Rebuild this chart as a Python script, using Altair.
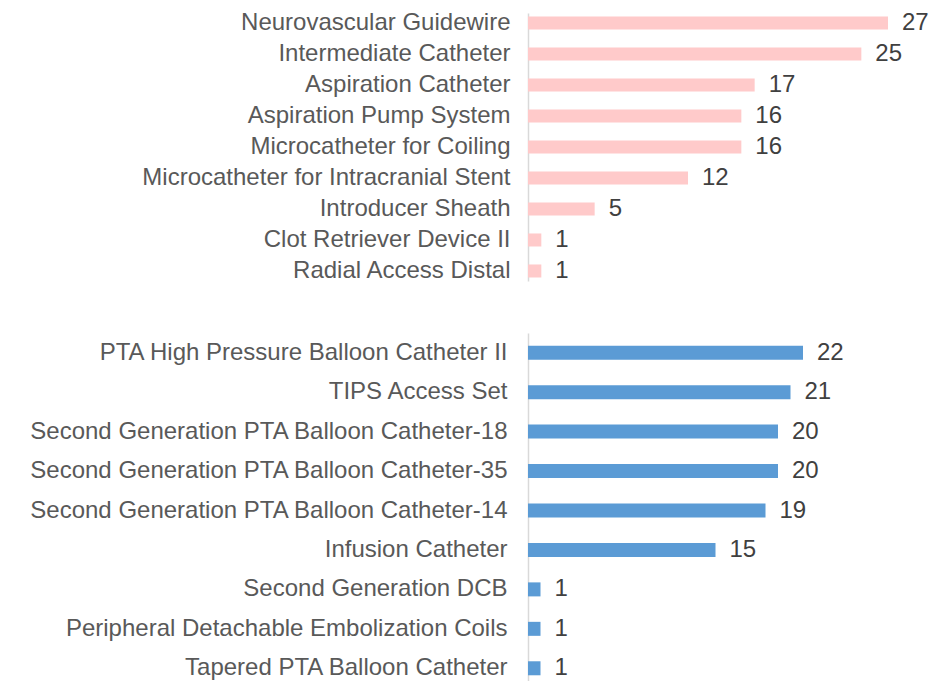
import altair as alt
import pandas as pd

top_cats = ["Neurovascular Guidewire", "Intermediate Catheter", "Aspiration Catheter",
            "Aspiration Pump System", "Microcatheter for Coiling",
            "Microcatheter for Intracranial Stent", "Introducer Sheath",
            "Clot Retriever Device II", "Radial Access Distal"]
top_vals = [27, 25, 17, 16, 16, 12, 5, 1, 1]

bottom_cats = ["PTA High Pressure Balloon Catheter II", "TIPS Access Set",
               "Second Generation PTA Balloon Catheter-18",
               "Second Generation PTA Balloon Catheter-35",
               "Second Generation PTA Balloon Catheter-14", "Infusion Catheter",
               "Second Generation DCB", "Peripheral Detachable Embolization Coils",
               "Tapered PTA Balloon Catheter"]
bottom_vals = [22, 21, 20, 20, 19, 15, 1, 1, 1]

FONT = "Liberation Sans"


def panel(cats, vals, color, width, height, pi, po, label_pad):
    df = pd.DataFrame({"cat": cats, "val": vals})
    y = alt.Y("cat:N", sort=cats, title=None,
              scale=alt.Scale(paddingInner=pi, paddingOuter=po),
              axis=alt.Axis(ticks=False, domainColor="#D9D9D9", domainWidth=1.5,
                            labelFont=FONT, labelFontSize=24, labelColor="#595959",
                            labelPadding=label_pad, labelLimit=700))
    x = alt.X("val:Q", scale=alt.Scale(domain=[0, 30], nice=False), axis=None)
    base = alt.Chart(df).encode(y=y, x=x)
    bars = base.mark_bar(color=color)
    text = base.mark_text(align="left", baseline="middle", dx=14, font=FONT,
                          fontSize=24, color="#404040").encode(text="val:Q")
    return (bars + text).properties(width=width, height=height)


top = panel(top_cats, top_vals, "#FFCACA", 400, 268, 0.58, 0.113, 18)
bottom = panel(bottom_cats, bottom_vals, "#5B9BD5", 375, 355, 0.645, 0.3225, 21)

chart = alt.vconcat(top, bottom, spacing=50).properties(
    padding={"left": 20, "top": 2, "right": 0, "bottom": 0}
).configure_view(stroke=None)

chart.save("out.html", embed_options={"renderer": "svg", "actions": False})
